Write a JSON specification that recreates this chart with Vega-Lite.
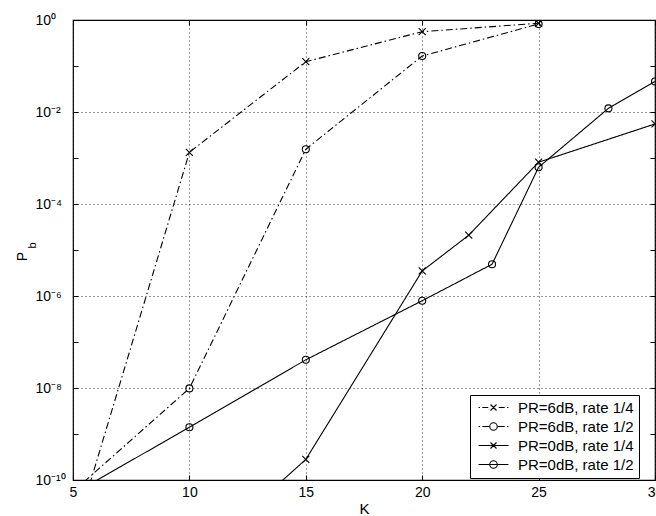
{
  "$schema": "https://vega.github.io/schema/vega-lite/v6.json",
  "width": 582,
  "height": 460,
  "autosize": {"type": "none"},
  "padding": {"left": 73, "top": 20, "right": 1, "bottom": 36},
  "background": "white",
  "config": {
    "view": {"stroke": "black", "strokeWidth": 1.2},
    "font": "Liberation Sans"
  },
  "data": {
    "values": [
      {"series": "PR=6dB, rate 1/4", "K": 5, "Pb": 5e-12},
      {"series": "PR=6dB, rate 1/4", "K": 10, "Pb": 0.00133},
      {"series": "PR=6dB, rate 1/4", "K": 15, "Pb": 0.124},
      {"series": "PR=6dB, rate 1/4", "K": 20, "Pb": 0.557},
      {"series": "PR=6dB, rate 1/4", "K": 25, "Pb": 0.85},
      {"series": "PR=6dB, rate 1/2", "K": 5, "Pb": 5.6e-11},
      {"series": "PR=6dB, rate 1/2", "K": 10, "Pb": 9.8e-9},
      {"series": "PR=6dB, rate 1/2", "K": 15, "Pb": 0.00155},
      {"series": "PR=6dB, rate 1/2", "K": 20, "Pb": 0.165},
      {"series": "PR=6dB, rate 1/2", "K": 25, "Pb": 0.82},
      {"series": "PR=0dB, rate 1/4", "K": 10, "Pb": 1.5e-12},
      {"series": "PR=0dB, rate 1/4", "K": 15, "Pb": 2.8e-10},
      {"series": "PR=0dB, rate 1/4", "K": 20, "Pb": 3.5e-6},
      {"series": "PR=0dB, rate 1/4", "K": 22, "Pb": 2.1e-5},
      {"series": "PR=0dB, rate 1/4", "K": 25, "Pb": 0.00081},
      {"series": "PR=0dB, rate 1/4", "K": 30, "Pb": 0.0055},
      {"series": "PR=0dB, rate 1/2", "K": 5, "Pb": 5e-11},
      {"series": "PR=0dB, rate 1/2", "K": 10, "Pb": 1.4e-9},
      {"series": "PR=0dB, rate 1/2", "K": 15, "Pb": 4.1e-8},
      {"series": "PR=0dB, rate 1/2", "K": 20, "Pb": 7.9e-7},
      {"series": "PR=0dB, rate 1/2", "K": 23, "Pb": 4.9e-6},
      {"series": "PR=0dB, rate 1/2", "K": 25, "Pb": 0.00063},
      {"series": "PR=0dB, rate 1/2", "K": 28, "Pb": 0.012},
      {"series": "PR=0dB, rate 1/2", "K": 30, "Pb": 0.046}
    ]
  },
  "resolve": {"axis": {"x": "independent", "y": "independent"}},
  "layer": [
    {
      "mark": {"type": "line", "clip": true, "color": "black", "strokeWidth": 1.1},
      "encoding": {
        "x": {
          "field": "K", "type": "quantitative",
          "scale": {"domain": [5, 30], "nice": false, "zero": false},
          "axis": {
            "orient": "bottom",
            "values": [5, 10, 15, 20, 25, 30],
            "tickSize": -5, "tickColor": "black", "tickWidth": 1,
            "domain": false,
            "grid": true, "gridColor": "black", "gridDash": [1, 3], "gridWidth": 1, "gridOpacity": 0.8,
            "labelFont": "Liberation Sans", "labelFontSize": 14, "labelColor": "black",
            "labelPadding": 10, "labelFlush": false, "labelOverlap": false,
            "title": "K", "titleFont": "Liberation Sans", "titleFontSize": 15, "titleFontWeight": "normal",
            "titleColor": "black", "titleBaseline": "alphabetic", "titleY": 33
          }
        },
        "y": {
          "field": "Pb", "type": "quantitative",
          "scale": {"type": "log", "domain": [1e-10, 1], "nice": false},
          "axis": {
            "orient": "left",
            "values": [1, 0.1, 0.01, 0.001, 0.0001, 1e-5, 1e-6, 1e-7, 1e-8, 1e-9, 1e-10],
            "tickSize": -5, "tickColor": "black", "tickWidth": 1,
            "domain": false,
            "grid": true, "gridColor": "black", "gridDash": [1, 3], "gridWidth": 1,
            "gridOpacity": {"condition": {"test": "round(log(datum.value)/LN10) % 2 == 0", "value": 0.8}, "value": 0},
            "labelExpr": "['10⁰','','10⁻²','','10⁻⁴','','10⁻⁶','','10⁻⁸','','10⁻¹⁰'][-round(log(datum.value)/LN10)]",
            "labelFont": "Liberation Sans", "labelFontSize": 14, "labelColor": "black",
            "labelAlign": "left", "labelBaseline": "middle", "labelPadding": 43, "labelOverlap": false,
            "title": "P", "titleFont": "Liberation Sans", "titleFontSize": 14, "titleFontWeight": "normal",
            "titleColor": "black", "titleAngle": -90, "titleAlign": "center", "titleBaseline": "alphabetic",
            "titleX": -47, "titleY": 236
          }
        },
        "strokeDash": {
          "field": "series", "type": "nominal",
          "scale": {
            "range": [[1, 0], [1, 0], [7, 3, 1.5, 3], [7, 3, 1.5, 3]]
          },
          "legend": null
        }
      }
    },
    {
      "mark": {"type": "point", "clip": true, "filled": false, "color": "black", "strokeWidth": 1.1, "size": 49},
      "encoding": {
        "x": {
          "field": "K", "type": "quantitative",
          "scale": {"domain": [5, 30], "nice": false, "zero": false},
          "axis": {
            "orient": "top",
            "values": [5, 10, 15, 20, 25, 30],
            "tickSize": -5, "tickColor": "black", "tickWidth": 1,
            "domain": false, "grid": false, "labels": false, "title": null
          }
        },
        "y": {
          "field": "Pb", "type": "quantitative",
          "scale": {"type": "log", "domain": [1e-10, 1], "nice": false},
          "axis": {
            "orient": "right",
            "values": [1, 0.1, 0.01, 0.001, 0.0001, 1e-5, 1e-6, 1e-7, 1e-8, 1e-9, 1e-10],
            "tickSize": -5, "tickColor": "black", "tickWidth": 1,
            "domain": false, "grid": false, "labels": false,
            "title": "b", "titleFont": "Liberation Sans", "titleFontSize": 11, "titleFontWeight": "normal",
            "titleColor": "black", "titleAngle": -90, "titleAlign": "center", "titleBaseline": "alphabetic",
            "titleX": -620, "titleY": 225
          }
        },
        "shape": {
          "field": "series", "type": "nominal",
          "scale": {
            "range": ["circle", "M-1,-1L1,1M-1,1L1,-1", "circle", "M-1,-1L1,1M-1,1L1,-1"]
          },
          "legend": null
        },
        "opacity": {
          "field": "series", "type": "nominal",
          "scale": {
            "domain": ["PR=6dB, rate 1/4", "PR=6dB, rate 1/2", "PR=0dB, rate 1/4", "PR=0dB, rate 1/2"],
            "range": [1, 1, 1, 1]
          },
          "legend": {
            "title": null,
            "orient": "none", "legendX": 397, "legendY": 375,
            "direction": "vertical",
            "symbolSize": 56, "rowPadding": 3, "padding": 5,
            "symbolOffset": 11, "labelOffset": 17,
            "symbolStrokeWidth": 1.1, "symbolStrokeColor": "black", "symbolFillColor": "transparent",
            "symbolType": {"expr": "datum.value == 'PR=6dB, rate 1/4' ? 'M-4,0H-3.6M-3,0H-1.4M1.4,0H3M3.6,0H4M-0.8,-0.8L0.8,0.8M-0.8,0.8L0.8,-0.8' : datum.value == 'PR=6dB, rate 1/2' ? 'M-4,0H-3.6M-3,0H-1.2M1.2,0H3M3.6,0H4M1,0A1,1,0,1,1,-1,0A1,1,0,1,1,1,0' : datum.value == 'PR=0dB, rate 1/4' ? 'M-4,0H4M-0.8,-0.8L0.8,0.8M-0.8,0.8L0.8,-0.8' : 'M-4,0H4M1,0A1,1,0,1,1,-1,0A1,1,0,1,1,1,0'"},
            "strokeColor": "black", "fillColor": "white", "cornerRadius": 0,
            "labelFont": "Liberation Sans", "labelFontSize": 15, "labelColor": "black", "labelLimit": 400,
            "labelExpr": "datum.label + '\u00a0\u00a0\u00a0\u00a0\u00a0\u00a0'"
          }
        }
      }
    }
  ]
}
